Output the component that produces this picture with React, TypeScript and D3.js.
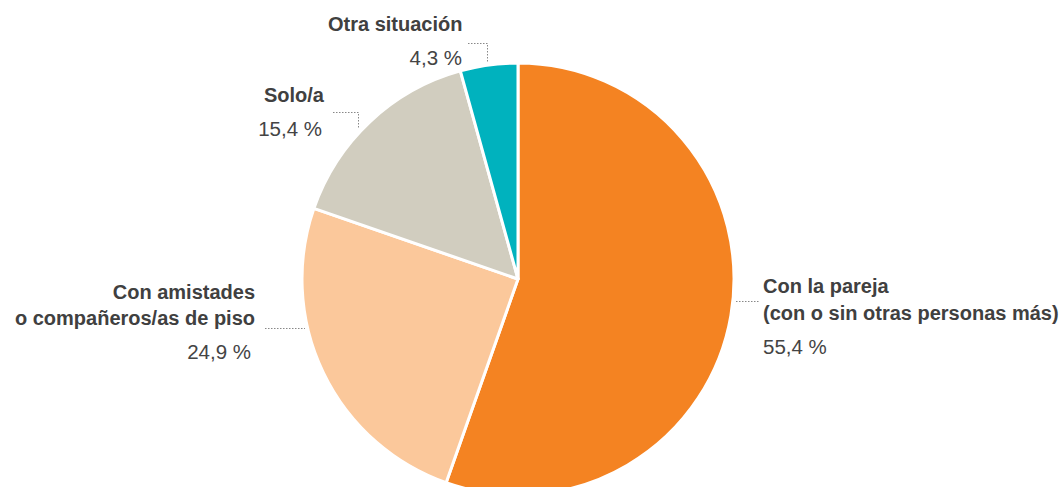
import React from "react";
import * as d3 from "d3";

const categories = [
  "Con la pareja (con o sin otras personas más)",
  "Con amistades o compañeros/as de piso",
  "Solo/a",
  "Otra situación",
];
const values = [55.4, 24.9, 15.4, 4.3];
const valueLabels = ["55,4 %", "24,9 %", "15,4 %", "4,3 %"];
const colors = ["#F48322", "#FBC89B", "#D1CDBF", "#00B2BE"];

const W = 1063;
const H = 487;
const cx = 518;
const cy = 279;
const R = 216;

const labelFont = "'Liberation Sans', Arial, Helvetica, sans-serif";

export default function App() {
  const pie = d3.pie<number>().sort(null).value((d) => d);
  const arcs = pie(values);
  const arc = d3.arc<d3.PieArcDatum<number>>().innerRadius(0).outerRadius(R);

  const bold = { fontFamily: labelFont, fontSize: 20, fontWeight: 700, fill: "#404040" } as const;
  const normal = { fontFamily: labelFont, fontSize: 20.5, fontWeight: 400, fill: "#444" } as const;
  const dot = { stroke: "#888", strokeWidth: 1, strokeDasharray: "1.5 1.5", fill: "none" } as const;

  return (
    <svg width={W} height={H} style={{ position: "absolute", left: 0, top: 0 }}>
      <rect width={W} height={H} fill="#fff" />
      <g transform={`translate(${cx},${cy})`}>
        {arcs.map((a, i) => (
          <path key={categories[i]} d={arc(a) || ""} fill={colors[i]} stroke="#fff" strokeWidth={3} strokeLinejoin="round" />
        ))}
      </g>

      {/* Otra situación */}
      <text x={328} y={31} style={bold}>Otra situación</text>
      <text x={462} y={65} textAnchor="end" style={normal}>{valueLabels[3]}</text>
      <path d="M468,43.5 H487.5 V63" style={dot} />

      {/* Solo/a */}
      <text x={324} y={102} textAnchor="end" style={bold}>Solo/a</text>
      <text x={322} y={136} textAnchor="end" style={normal}>{valueLabels[2]}</text>
      <path d="M333,112.5 H358.5 V128" style={dot} />

      {/* Con amistades */}
      <text x={255} y={299} textAnchor="end" style={bold}>Con amistades</text>
      <text x={255} y={325} textAnchor="end" style={bold}>o compañeros/as de piso</text>
      <text x={251} y={359} textAnchor="end" style={normal}>{valueLabels[1]}</text>
      <path d="M265,328.5 H305" style={dot} />

      {/* Con la pareja */}
      <text x={763} y={293} style={bold}>Con la pareja</text>
      <text x={763} y={320} style={bold}>(con o sin otras personas más)</text>
      <text x={763} y={354} style={normal}>{valueLabels[0]}</text>
      <path d="M736,301.5 H760" style={dot} />
    </svg>
  );
}
